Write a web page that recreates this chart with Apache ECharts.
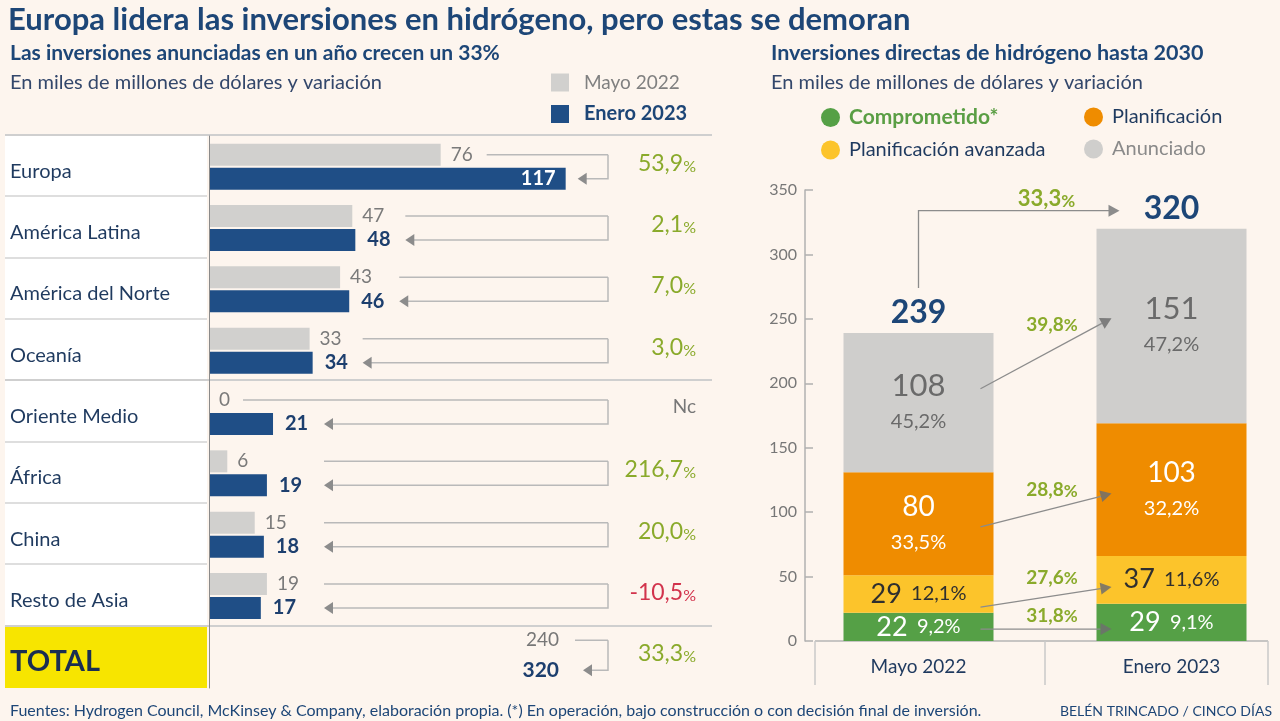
<!DOCTYPE html>
<html><head><meta charset="utf-8">
<script src="https://cdn.jsdelivr.net/npm/echarts@6/dist/echarts.min.js"></script>
<style>html,body{margin:0;padding:0;background:#fdf5ee}#c{width:1280px;height:721px}</style>
</head><body><div id="c"></div>
<script>
// ---------- DATA ----------
const regions = ['Europa','América Latina','América del Norte','Oceanía','Oriente Medio','África','China','Resto de Asia'];
const mayo2022 = [76,47,43,33,0,6,15,19];
const enero2023 = [117,48,46,34,21,19,18,17];
const variacion = ['53,9','2,1','7,0','3,0','Nc','216,7','20,0','-10,5'];
const totalLabel = 'TOTAL';
const totalMayo = 240;
const totalEnero = 320;
const totalVariacion = '33,3';

const fechas = ['Mayo 2022','Enero 2023'];
const etapas = ['Comprometido*','Planificación avanzada','Planificación','Anunciado'];
const comprometido = [22,29];
const planAvanzada = [29,37];
const planificacion = [80,103];
const anunciado = [108,151];
const totales = [239,320];
const variacionEtapas = ['31,8','27,6','28,8','39,8'];
const variacionTotal = '33,3';

// ---------- STYLE ----------
const FONT = 'Lato, "Noto Sans", sans-serif';
const NAVY = '#1d4677';
const DARK = '#1f3a5f';
const OLIVE = '#8aaa2b';
const RED = '#d2334c';
const ARROW = '#8c8c8c';
const LINE = '#b9b9b9';
const C_GRAY = '#d1d0ce', C_BLUE = '#1f4e86';
const C_GREEN = '#55a046', C_YEL = '#fcc42b', C_ORA = '#ef8c00', C_ANU = '#cfcecc';

const categories = regions.concat([totalLabel]);
const stacks = [comprometido, planAvanzada, planificacion, anunciado];
const fromFrac = [0.42, 0.15, 0.47, 0.6];
const toFrac = [0.32, 0.35, 0.47, 0.54];
const lblDy = [-15, -11, -5, 5];

const GTOP = 136, GH = 552, ROWH = GH / categories.length;

function pctRichText(s){
  if (s === 'Nc') return {text:'Nc', color:'#777'};
  return {text:'{n|' + s + '}{p|%}', color: s.charAt(0) === '-' ? RED : OLIVE};
}

function renderBracket(params, api){
  const i = api.value(0);
  const c = api.coord([0, i]);
  const x0 = c[0], cy = c[1];
  const xr = x0 + 399;
  const isTotal = i === regions.length;
  const children = [];
  let yTop, yBot, xStart, xTip;
  if (isTotal) {
    yTop = cy - 17; yBot = cy + 13;
    xStart = x0 + 366; xTip = x0 + 374;
    children.push({type:'text', style:{x:x0+350, y:yTop, text:String(api.value(1)), fill:'#777', fontSize:19, fontFamily:FONT, align:'right', verticalAlign:'middle'}});
    children.push({type:'text', style:{x:x0+350, y:yBot, text:String(api.value(2)), fill:'#1d3f6e', fontSize:21, fontWeight:'bold', fontFamily:FONT, align:'right', verticalAlign:'middle'}});
  } else {
    yTop = cy - 12; yBot = cy + 12;
    const may = Number(api.value(1)), jan = Number(api.value(2));
    const gx = api.coord([may, i])[0], bx = api.coord([jan, i])[0];
    if (jan > 100) {
      xTip = bx + 12;
      xStart = gx + 46;
    } else {
      xTip = Math.max(bx + 50, x0 + 115);
      xStart = may === 0 ? gx + 34 : Math.max(gx + 46, xTip);
    }
  }
  children.push({type:'line', shape:{x1:xStart, y1:yTop, x2:xr, y2:yTop}, style:{stroke:LINE, lineWidth:1.5}});
  children.push({type:'polyline', shape:{points:[[xr,yTop],[xr,yBot],[xTip+8,yBot]]}, style:{stroke:LINE, lineWidth:1.5, fill:null}});
  children.push({type:'polygon', shape:{points:[[xTip,yBot],[xTip+9,yBot-6],[xTip+9,yBot+6]]}, style:{fill:ARROW}});
  const pv = isTotal ? totalVariacion : variacion[i];
  const pr = pctRichText(pv);
  children.push({type:'text', style:{x:x0+487, y:cy-5, text:pr.text, fill:pr.color, fontSize:19, fontFamily:FONT, align:'right', verticalAlign:'middle',
    rich:{n:{fontSize:23, fill:pr.color, fontFamily:FONT, verticalAlign:'bottom', lineHeight:26}, p:{fontSize:16, fill:pr.color, fontFamily:FONT, verticalAlign:'bottom', lineHeight:23}}}});
  return {type:'group', children};
}

function base(k, j){ let s = 0; for (let m = 0; m < k; m++) s += stacks[m][j]; return s; }

function renderSegArrow(params, api){
  const k = api.value(2);
  const s = stacks[k];
  const c0 = api.coord([0, base(k,0) + fromFrac[k]*s[0]]);
  const c1 = api.coord([1, base(k,1) + toFrac[k]*s[1]]);
  const x1 = c0[0] + 62, y1 = c0[1];
  const x2 = c1[0] - 60, y2 = c1[1];
  const dx = x2-x1, dy = y2-y1, L = Math.hypot(dx,dy), ux = dx/L, uy = dy/L;
  const hl = 11, hw = 6;
  const bx = x2-ux*hl, by = y2-uy*hl;
  return {type:'group', children:[
    {type:'line', shape:{x1, y1, x2:bx, y2:by}, style:{stroke:ARROW, lineWidth:1.3}},
    {type:'polygon', shape:{points:[[x2,y2],[bx-uy*hw, by+ux*hw],[bx+uy*hw, by-ux*hw]]}, style:{fill:'#6f6f6f', opacity:0.85}},
    {type:'text', style:{x:(x1+x2)/2+6, y:y2+lblDy[k], text:'{n|'+variacionEtapas[k]+'}{p|%}', fill:OLIVE, align:'center', verticalAlign:'middle',
      rich:{n:{fontSize:19, fontWeight:'bold', fill:OLIVE, fontFamily:FONT, verticalAlign:'bottom', lineHeight:22}, p:{fontSize:17, fontWeight:'bold', fill:OLIVE, fontFamily:FONT, verticalAlign:'bottom', lineHeight:21}}}}
  ]};
}

function renderTotal(params, api){
  const p0 = api.coord([0, totales[0]]), p1 = api.coord([1, totales[1]]);
  const xA = p0[0], yStart = p0[1] - 45, yC = p1[1] - 18, xEnd = p1[0] - 52;
  return {type:'group', children:[
    {type:'polyline', shape:{points:[[xA,yStart],[xA,yC],[xEnd-10,yC]]}, style:{stroke:ARROW, lineWidth:1.3, fill:null}},
    {type:'polygon', shape:{points:[[xEnd,yC],[xEnd-11,yC-6],[xEnd-11,yC+6]]}, style:{fill:ARROW}},
    {type:'text', style:{x:xA, y:p0[1]-20, text:String(totales[0]), fill:NAVY, fontSize:32, fontWeight:'bold', fontFamily:FONT, align:'center', verticalAlign:'middle'}},
    {type:'text', style:{x:p1[0], y:p1[1]-20, text:String(totales[1]), fill:NAVY, fontSize:32, fontWeight:'bold', fontFamily:FONT, align:'center', verticalAlign:'middle'}},
    {type:'text', style:{x:xEnd-73, y:yC-14, text:'{n|'+variacionTotal+'}{p|%}', fill:OLIVE, align:'center', verticalAlign:'middle',
      rich:{n:{fontSize:22, fontWeight:'bold', fill:OLIVE, fontFamily:FONT, verticalAlign:'bottom', lineHeight:26}, p:{fontSize:17, fontWeight:'bold', fill:OLIVE, fontFamily:FONT, verticalAlign:'bottom', lineHeight:24}}}}
  ]};
}

function segLabel(color, twoLine, big, small){
  return {
    show:true, position:'inside', color, fontFamily:FONT,
    formatter: p => {
      const pct = (p.value / totales[p.dataIndex] * 100).toFixed(1).replace('.', ',');
      return twoLine ? '{v|'+p.value+'}\n{p|'+pct+'%}' : '{v|'+p.value+'}   {p|'+pct+'%}';
    },
    rich:{
      v:{fontSize:big, color, fontFamily:FONT, lineHeight: twoLine ? 38 : 28},
      p:{fontSize:small, color, fontFamily:FONT, lineHeight: twoLine ? 34 : 28}
    }
  };
}

// ---------- GRAPHIC (layout decorations) ----------
const graphics = [];
graphics.push({type:'rect', shape:{x:5, y:GTOP, width:202, height:ROWH*regions.length}, style:{fill:'#ffffff'}});
graphics.push({type:'rect', shape:{x:5, y:GTOP+ROWH*regions.length, width:202, height:ROWH}, style:{fill:'#f7e500'}});
for (let r = 0; r <= regions.length; r++) {
  const y = Math.round(GTOP + ROWH*r) - 1;
  const full = (r === 0 || r === 4 || r === regions.length);
  graphics.push({type:'line', shape:{x1:5, y1:y, x2: full ? 712 : 207, y2:y}, style:{stroke: full ? '#cfcfcf' : '#dedede', lineWidth:2}});
}
// right x-axis base & separators
graphics.push({type:'line', shape:{x1:815, y1:641, x2:1268, y2:641}, style:{stroke:'#b5b5b5', lineWidth:1.5}});
[815, 1045, 1268].forEach(x => graphics.push({type:'line', shape:{x1:x, y1:641, x2:x, y2:685}, style:{stroke:'#c8c8c8', lineWidth:1.5}}));
// footer
graphics.push({type:'text', style:{x:10, y:711, text:'Fuentes: Hydrogen Council, McKinsey & Company, elaboración propia. (*) En operación, bajo construcción o con decisión final de inversión.', fill:NAVY, fontSize:16, fontFamily:FONT, verticalAlign:'middle'}});
graphics.push({type:'text', style:{x:1272, y:711, text:'BELÉN TRINCADO / CINCO DÍAS', fill:NAVY, fontSize:14, fontFamily:FONT, align:'right', verticalAlign:'middle'}});

// ---------- OPTION ----------
const option = {
  backgroundColor:'#fdf5ee',
  animation:false,
  textStyle:{fontFamily:FONT},
  title:[
    {text:'Europa lidera las inversiones en hidrógeno, pero estas se demoran', left:8, top:2, padding:0, textStyle:{fontSize:31, fontWeight:'bold', color:NAVY, fontFamily:FONT, lineHeight:36}},
    {text:'Las inversiones anunciadas en un año crecen un 33%', left:10, top:40, padding:0, textStyle:{fontSize:21, fontWeight:'bold', color:NAVY, fontFamily:FONT, lineHeight:26}},
    {text:'En miles de millones de dólares y variación', left:10, top:71, padding:0, textStyle:{fontSize:20, fontWeight:'normal', color:'#33476b', fontFamily:FONT, lineHeight:24}},
    {text:'Inversiones directas de hidrógeno hasta 2030', left:771, top:40, padding:0, textStyle:{fontSize:21.5, fontWeight:'bold', color:NAVY, fontFamily:FONT, lineHeight:26}},
    {text:'En miles de millones de dólares y variación', left:771, top:71, padding:0, textStyle:{fontSize:20, fontWeight:'normal', color:'#33476b', fontFamily:FONT, lineHeight:24}}
  ],
  legend:[
    {orient:'vertical', left:551, top:73, padding:0, itemGap:12, itemWidth:18, itemHeight:18, icon:'rect', selectedMode:false,
     data:[{name:'Mayo 2022', textStyle:{color:'#808080', fontSize:19}}, {name:'Enero 2023', textStyle:{color:NAVY, fontWeight:'bold', fontSize:20}}],
     textStyle:{fontSize:19, fontFamily:FONT, padding:[0,0,0,10]}},
    {orient:'vertical', left:821, top:107, padding:0, itemGap:12, itemWidth:19, itemHeight:19, icon:'circle', selectedMode:false,
     data:[{name:'Comprometido*', textStyle:{color:'#5a9e44', fontWeight:'bold', fontSize:21}}, {name:'Planificación avanzada', textStyle:{color:DARK}}],
     textStyle:{fontSize:20, fontFamily:FONT, padding:[0,0,0,4]}},
    {orient:'vertical', left:1084, top:107, padding:0, itemGap:12, itemWidth:19, itemHeight:19, icon:'circle', selectedMode:false,
     data:[{name:'Planificación', textStyle:{color:DARK}}, {name:'Anunciado', textStyle:{color:'#8a8a8a'}}],
     textStyle:{fontSize:20, fontFamily:FONT, padding:[0,0,0,4]}}
  ],
  grid:[
    {left:209, top:GTOP, width:503, height:GH, outerBoundsMode:'none', containLabel:false},
    {left:792, top:190, width:506, height:451, outerBoundsMode:'none', containLabel:false}
  ],
  xAxis:[
    {gridIndex:0, type:'value', min:0, max:165, show:false},
    {gridIndex:1, type:'category', data:fechas, axisLine:{show:false}, axisTick:{show:false}, splitLine:{show:false},
     axisLabel:{fontSize:19, color:DARK, fontFamily:FONT, margin:16}}
  ],
  yAxis:[
    {gridIndex:0, type:'category', data:categories, inverse:true, z:10,
     axisLine:{show:true, lineStyle:{color:'#8a8a8a', width:1}}, axisTick:{show:false}, splitLine:{show:false},
     axisLabel:{align:'left', margin:199, fontSize:20, color:DARK, fontFamily:FONT, padding:[9,0,0,0],
       formatter: v => v === totalLabel ? '{t|' + v + '}' : v,
       rich:{t:{fontSize:29, fontWeight:'bold', color:'#1a2e52', fontFamily:FONT}}}},
    {gridIndex:1, type:'value', min:0, max:350, interval:50, offset:-13, z:10,
     axisLine:{show:true, lineStyle:{color:'#b0b0b0', width:1.5}},
     axisTick:{show:true, inside:true, length:8, lineStyle:{color:'#b0b0b0', width:1.5}},
     splitLine:{show:false},
     axisLabel:{fontSize:16, color:'#777', fontFamily:FONT, margin:8}}
  ],
  graphic:{elements:graphics},
  series:[
    {type:'bar', name:'Mayo 2022', xAxisIndex:0, yAxisIndex:0, data:mayo2022.concat(['-']),
     barWidth:22, barGap:'9%', itemStyle:{color:C_GRAY},
     label:{show:true, position:'right', distance:10, color:'#7a7a7a', fontSize:19, fontFamily:FONT}},
    {type:'bar', name:'Enero 2023', xAxisIndex:0, yAxisIndex:0,
     data:enero2023.map(v => v > 100 ? {value:v, label:{position:'insideRight', color:'#ffffff', distance:10}} : v).concat(['-']),
     barWidth:22, itemStyle:{color:C_BLUE},
     label:{show:true, position:'right', distance:12, color:'#1d3f6e', fontSize:20, fontWeight:'bold', fontFamily:FONT}},
    {type:'custom', name:'brackets', xAxisIndex:0, yAxisIndex:0, z:3,
     data:categories.map((c, i) => [i, i < regions.length ? mayo2022[i] : totalMayo, i < regions.length ? enero2023[i] : totalEnero]),
     encode:{x:1, y:0}, renderItem:renderBracket, silent:true},
    {type:'bar', name:'Comprometido*', xAxisIndex:1, yAxisIndex:1, stack:'t', barWidth:150, data:comprometido,
     itemStyle:{color:C_GREEN}, label:segLabel('#ffffff', false, 27, 20)},
    {type:'bar', name:'Planificación avanzada', xAxisIndex:1, yAxisIndex:1, stack:'t', barWidth:150, data:planAvanzada,
     itemStyle:{color:C_YEL}, label:segLabel('#2f2f2f', false, 27, 20)},
    {type:'bar', name:'Planificación', xAxisIndex:1, yAxisIndex:1, stack:'t', barWidth:150, data:planificacion,
     itemStyle:{color:C_ORA}, label:segLabel('#ffffff', true, 28, 20)},
    {type:'bar', name:'Anunciado', xAxisIndex:1, yAxisIndex:1, stack:'t', barWidth:150, data:anunciado,
     itemStyle:{color:C_ANU}, label:segLabel('#6a6a6a', true, 31, 20)},
    {type:'custom', name:'segArrows', xAxisIndex:1, yAxisIndex:1, z:5, silent:true,
     data:stacks.map((s, k) => [0, 0, k]), encode:{x:0, y:1}, renderItem:renderSegArrow},
    {type:'custom', name:'totalArrow', xAxisIndex:1, yAxisIndex:1, z:5, silent:true,
     data:[[0, 0, 0]], encode:{x:0, y:1}, renderItem:renderTotal}
  ]
};
const chart = echarts.init(document.getElementById('c'));
chart.setOption(option);
</script></body></html>
